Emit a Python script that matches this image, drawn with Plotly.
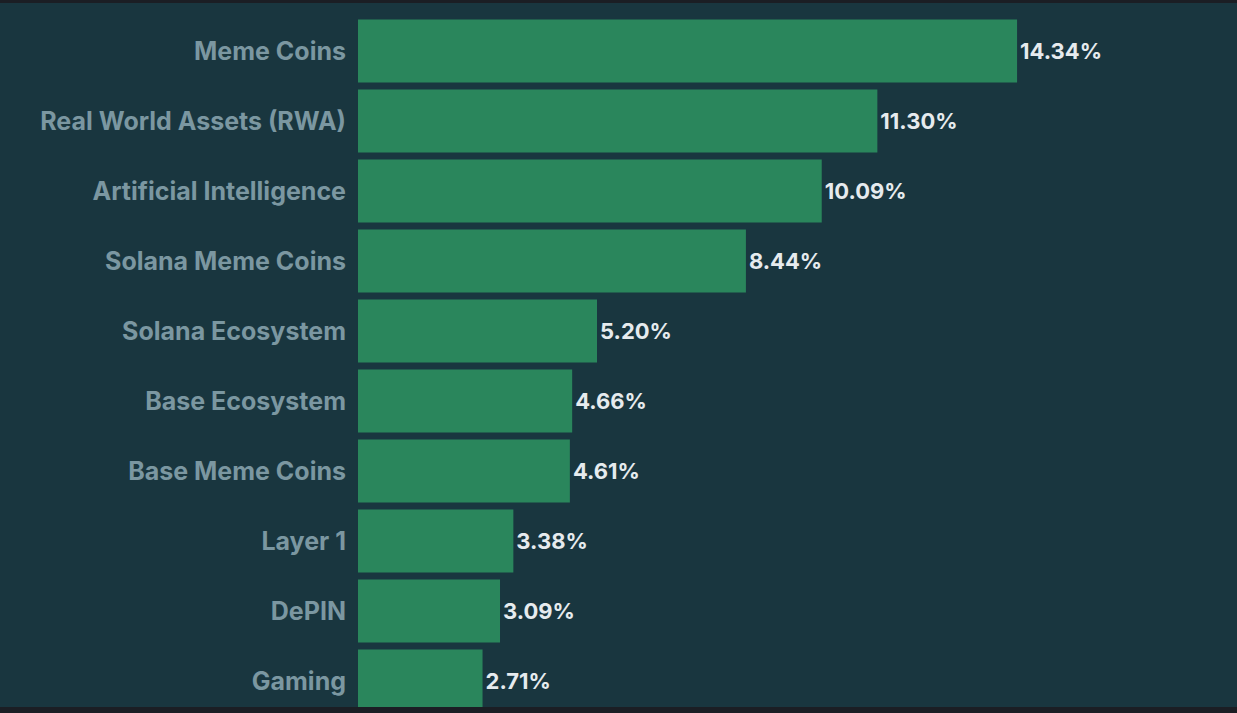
import plotly.graph_objects as go

categories = ["Meme Coins", "Real World Assets (RWA)", "Artificial Intelligence",
              "Solana Meme Coins", "Solana Ecosystem", "Base Ecosystem",
              "Base Meme Coins", "Layer 1", "DePIN", "Gaming"]
values = [14.34, 11.30, 10.09, 8.44, 5.20, 4.66, 4.61, 3.38, 3.09, 2.71]

bg = "#19363f"
strip = "#1b1e24"

fig = go.Figure(go.Bar(
    x=values,
    y=categories,
    orientation="h",
    marker=dict(color="#2a865c", line=dict(width=0)),
    texttemplate="%{x:.2f}%",
    textposition="outside",
    cliponaxis=False,
    textfont=dict(family="Inter", size=22, color="#e6ebee", weight=700),
))

fig.update_layout(
    width=1237,
    height=713,
    margin=dict(l=358, r=0, t=3, b=6, pad=0),
    paper_bgcolor=bg,
    plot_bgcolor=bg,
    bargap=0.1,
    showlegend=False,
    shapes=[
        dict(type="rect", xref="paper", yref="paper", x0=-0.5, x1=1, y0=1, y1=1.01,
             fillcolor=strip, line_width=0),
        dict(type="rect", xref="paper", yref="paper", x0=-0.5, x1=1, y0=-0.01, y1=0,
             fillcolor=strip, line_width=0),
    ],
)
fig.update_xaxes(visible=False, range=[0, 19.125])
fig.update_yaxes(
    type="category",
    range=[9.371, -0.686],
    showgrid=False,
    zeroline=False,
    showline=False,
    ticks="outside",
    ticklen=6,
    tickcolor="rgba(0,0,0,0)",
    tickfont=dict(family="Inter", size=25, color="#7b97a1", weight=700),
)

fig.write_html("out.html", config=dict(displayModeBar=False),
               post_script="document.body.style.margin='0';")
